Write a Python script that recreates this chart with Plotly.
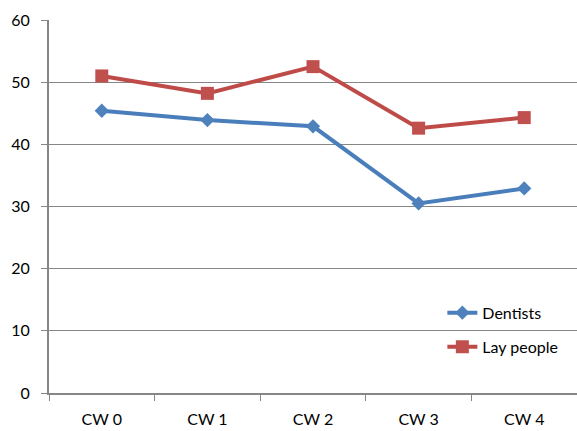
import plotly.graph_objects as go

categories = ["CW 0", "CW 1", "CW 2", "CW 3", "CW 4"]
dentists = [45.4, 43.9, 42.9, 30.5, 32.9]
lay_people = [51.0, 48.2, 52.5, 42.6, 44.3]
y_ticks = [0, 10, 20, 30, 40, 50, 60]

FONT = "Lato, 'Open Sans', sans-serif"
GRID = "#868686"
BLUE_LINE, BLUE_MARK = "#4A7EBB", "#4F81BD"
RED_LINE, RED_MARK = "#BE4B48", "#C0504D"

fig = go.Figure()
fig.add_trace(go.Scatter(
    x=categories, y=dentists, name="Dentists", mode="lines+markers",
    line=dict(color=BLUE_LINE, width=4),
    marker=dict(symbol="diamond", size=11, color=BLUE_MARK),
    legend="legend",
))
fig.add_trace(go.Scatter(
    x=categories, y=lay_people, name="Lay people", mode="lines+markers",
    line=dict(color=RED_LINE, width=4),
    marker=dict(symbol="square", size=13, color=RED_MARK),
    legend="legend2",
))

legend_style = dict(
    xanchor="left", yanchor="middle", bgcolor="rgba(0,0,0,0)",
    font=dict(family=FONT, size=16, color="#000000"),
    itemwidth=30,
)

fig.update_layout(
    width=577, height=431,
    margin=dict(l=49, r=0, t=20, b=38),
    paper_bgcolor="white", plot_bgcolor="white",
    font=dict(family=FONT, size=16, color="#000000"),
    showlegend=True,
    legend=dict(x=0.745, y=0.215, **legend_style),
    legend2=dict(x=0.745, y=0.124, **legend_style),
    xaxis=dict(
        type="category", range=[-0.5, 4.5],
        showline=True, linecolor=GRID, linewidth=2,
        ticks="outside", tickson="boundaries", ticklen=6, tickcolor=GRID,
        tickwidth=1, showgrid=False, zeroline=False,
        tickfont=dict(family=FONT, size=16), ticklabelstandoff=11,
    ),
    yaxis=dict(
        range=[0, 60], tickvals=y_ticks,
        showline=True, linecolor=GRID, linewidth=2,
        ticks="outside", ticklen=6, tickcolor=GRID, tickwidth=1,
        showgrid=True, gridcolor=GRID, gridwidth=1, zeroline=False,
        tickfont=dict(family=FONT, size=16), ticklabelstandoff=8,
    ),
)

fig.write_html("out.html")
